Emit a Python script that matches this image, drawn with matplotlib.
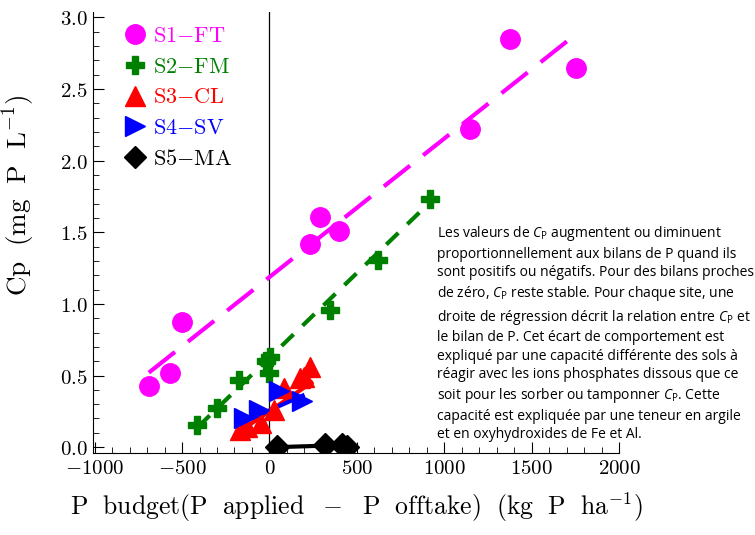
import numpy as np
import matplotlib
matplotlib.use('Agg')
import matplotlib.pyplot as plt
from matplotlib.lines import Line2D
from matplotlib.ticker import MultipleLocator, FuncFormatter

plt.rcParams['mathtext.fontset'] = 'cm'
plt.rcParams['mathtext.rm'] = 'Open Sans'
plt.rcParams['mathtext.it'] = 'Open Sans:italic'

# data
s1_x = [-690, -571, -499, 234, 291, 396, 1145, 1377, 1754]
s1_y = [0.43, 0.52, 0.876, 1.42, 1.61, 1.51, 2.22, 2.85, 2.65]
s1_fit_x = [-690, 1760]
s1_fit_y = [0.52, 2.89]

s2_x = [-413, -299, -175, -17, -4, 5, 349, 623, 920]
s2_y = [0.154, 0.27, 0.47, 0.60, 0.515, 0.63, 0.96, 1.31, 1.73]
s2_fit_x = [-410, 910]
s2_fit_y = [0.14, 1.70]

s3_x = [-166, -127, -51, 25, 82, 177, 196, 234]
s3_y = [0.12, 0.14, 0.166, 0.26, 0.41, 0.48, 0.49, 0.56]
s3_fit_x = [-170, 240]
s3_fit_y = [0.11, 0.45]

s4_x = [-147, -61, 53, 187]
s4_y = [0.20, 0.26, 0.39, 0.32]
s4_fit_x = [-160, 190]
s4_fit_y = [0.17, 0.36]

s5_x = [44, 320, 415, 443]
s5_y = [0.002, 0.014, 0.014, 0.0]
s5_fit_x = [44, 443]
s5_fit_y = [0.0, 0.015]

labels = ['S1', 'S2', 'S3', 'S4', 'S5']
sites = ['FT', 'FM', 'CL', 'SV', 'MA']

note = ("Les valeurs de $C_\\mathrm{P}$ augmentent ou diminuent\n"
        "proportionnellement aux bilans de P quand ils\n"
        "sont positifs ou négatifs. Pour des bilans proches\n"
        "de zéro, $C_\\mathrm{P}$ reste stable. Pour chaque site, une\n"
        "droite de régression décrit la relation entre $C_\\mathrm{P}$ et\n"
        "le bilan de P. Cet écart de comportement est\n"
        "expliqué par une capacité différente des sols à\n"
        "réagir avec les ions phosphates dissous que ce\n"
        "soit pour les sorber ou tamponner $C_\\mathrm{P}$. Cette\n"
        "capacité est expliquée par une teneur en argile\n"
        "et en oxyhydroxides de Fe et Al.")

fig = plt.figure(figsize=(7.55, 5.35), dpi=100)
ax = fig.add_axes([0.123, 0.153, 0.697, 0.825])

ax.axvline(0, color='black', lw=0.9, zorder=1)

ax.plot(s1_fit_x, s1_fit_y, color='magenta', lw=3, dashes=(8, 4))
ax.plot(s2_fit_x, s2_fit_y, color='green', lw=3, dashes=(4, 3))
ax.plot(s3_fit_x, s3_fit_y, color='red', lw=3)
ax.plot(s4_fit_x, s4_fit_y, color='blue', lw=3)
ax.plot(s5_fit_x, s5_fit_y, color='black', lw=3)

ax.plot(s1_x, s1_y, 'o', color='magenta', ms=14, ls='none')
ax.plot(s2_x, s2_y, 'P', color='green', ms=13, ls='none')
ax.plot(s3_x, s3_y, '^', color='red', ms=15, ls='none')
ax.plot(s4_x, s4_y, '>', color='blue', ms=15, ls='none')
ax.plot(s5_x, s5_y, 'D', color='black', ms=12, ls='none')

handles = [Line2D([], [], marker=m, color=c, ls='none', ms=s)
           for m, c, s in zip(['o', 'P', '^', '>', 'D'],
                              ['magenta', 'green', 'red', 'blue', 'black'],
                              [14, 13, 14, 14, 11])]
leg_labels = [r'$\mathrm{%s}{-}\mathrm{%s}$' % (a, b) for a, b in zip(labels, sites)]
ax.legend(handles, leg_labels, loc='upper left', bbox_to_anchor=(0.017, 1.018),
          frameon=False, fontsize=16, handlelength=1.0, handletextpad=0.3,
          labelspacing=0.48, borderaxespad=0.6, labelcolor='markerfacecolor')

ax.set_xlim(-1010, 2000)
ax.set_ylim(-0.042, 3.04)
ax.spines['top'].set_visible(False)
ax.spines['right'].set_visible(False)

ax.xaxis.set_major_locator(MultipleLocator(500))
ax.xaxis.set_minor_locator(MultipleLocator(100))
ax.yaxis.set_major_locator(MultipleLocator(0.5))
ax.yaxis.set_minor_locator(MultipleLocator(0.1))
ax.xaxis.set_major_formatter(FuncFormatter(lambda v, p: '$%d$' % v))
ax.yaxis.set_major_formatter(FuncFormatter(lambda v, p: '$%.1f$' % v))
ax.tick_params(which='major', direction='in', length=8, labelsize=15)
ax.tick_params(which='minor', direction='in', length=4)

ax.set_xlabel(r'$\mathrm{P\ \ budget(P\ \ applied\ \ -\ \ P\ \ offtake)\ \ (kg\ \ P\ \ ha^{-1})}$',
              fontsize=18.5, labelpad=9)
ax.set_ylabel(r'$\mathrm{Cp\ \ (mg\ \ P\ \ L^{-1})}$', fontsize=19.5)
ax.yaxis.set_label_coords(-0.105, 0.585)

fig.text(0.579, 0.581, note, fontsize=10, family='Open Sans', va='top', ha='left',
         linespacing=1.32, math_fontfamily='custom')

fig.savefig('out.png', dpi=100)
